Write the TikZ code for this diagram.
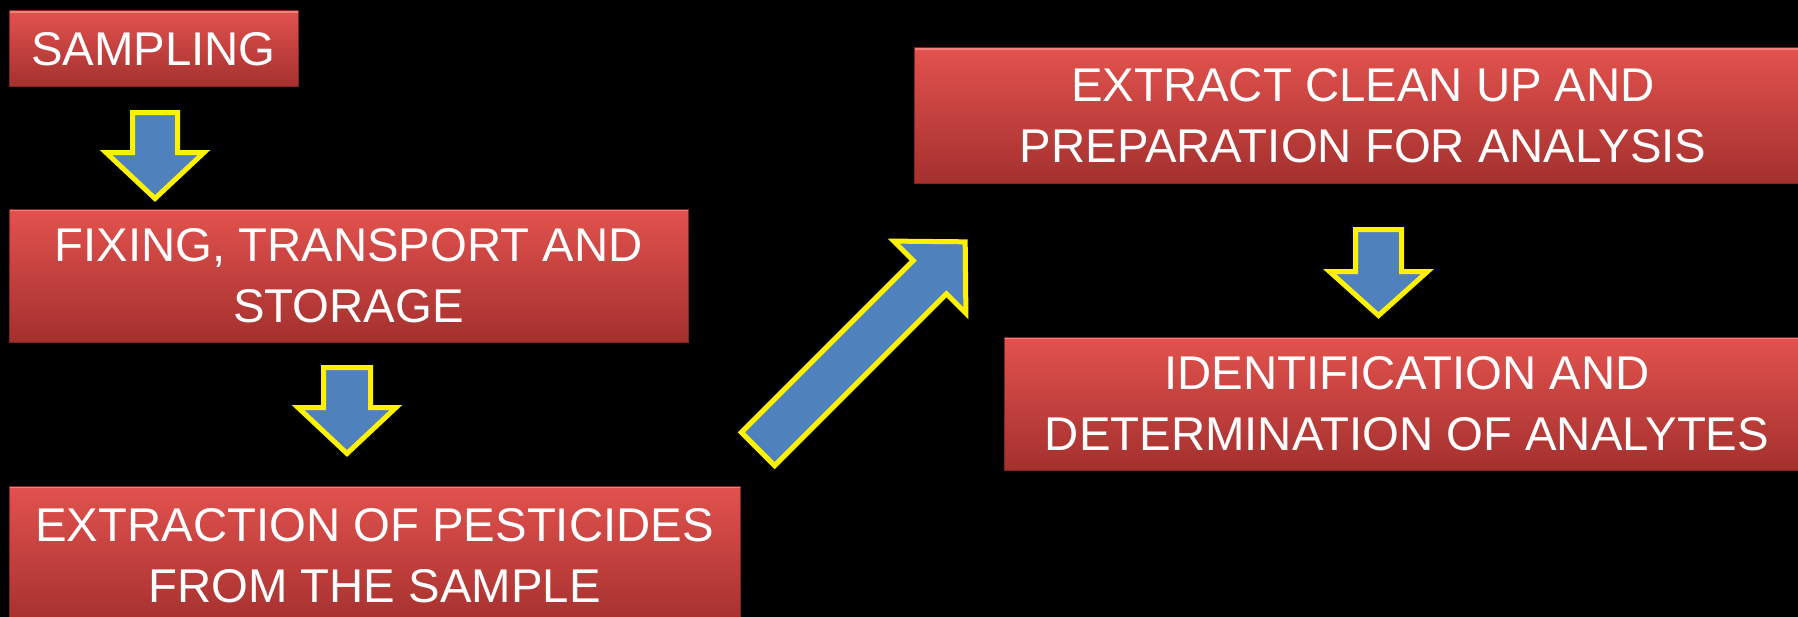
\documentclass[tikz,border=0pt]{standalone}
\usepackage{fontspec}
\setmainfont{Liberation Sans}
\usepackage{tikz}
\definecolor{boxtop}{RGB}{226,82,78}
\definecolor{boxbot}{RGB}{164,48,46}
\definecolor{boxedge}{RGB}{132,34,32}
\definecolor{boxlight}{RGB}{246,128,124}
\definecolor{arrowfill}{RGB}{79,129,189}
\newcommand{\stagefont}{\fontsize{35.5}{45.75}\selectfont}

\begin{document}
\begin{tikzpicture}[x=0.75pt,y=-0.75pt,
  stage/.style={top color=boxtop,bottom color=boxbot,draw=boxedge,line width=0.75pt,
    text=white,font=\stagefont,align=center,inner sep=0pt,
    path picture={\draw[boxlight,line width=3pt]
      (path picture bounding box.north west) -- (path picture bounding box.north east);}},
  arrowbody/.style={fill=arrowfill,draw=yellow,line width=3.75pt,line join=miter},
  pics/blockarr/.style n args={4}{code={
    \draw[arrowbody] (0,{-#2/2}) -- ({#1-#4},{-#2/2}) -- ({#1-#4},{-#3/2}) -- (#1,0)
      -- ({#1-#4},{#3/2}) -- ({#1-#4},{#2/2}) -- (0,{#2/2}) -- cycle;}}]
\useasboundingbox (0,0) rectangle (1798,617);
\fill[black] (0,0) rectangle (1798,617);
\clip (0,0) rectangle (1798,617);

\node (samp) [stage,minimum width=216.75pt,minimum height=57pt] at (153.5,49) {SAMPLING};
\node (fix) [stage,minimum width=509.25pt,minimum height=99.75pt] at (348.5,275.5)
  {FIXING, TRANSPORT AND\\STORAGE};
\node (extr) [stage,minimum width=548.25pt,minimum height=104.25pt] at (374.5,555.5)
  {EXTRACTION OF PESTICIDES\\FROM THE SAMPLE};
\node (clean) [stage,minimum width=673.5pt,minimum height=101.25pt] at (1363,115.5)
  {EXTRACT CLEAN UP AND\\PREPARATION FOR ANALYSIS};
\node (ident) [stage,minimum width=604.5pt,minimum height=99.75pt] at (1407,403.5)
  {IDENTIFICATION AND\\DETERMINATION OF ANALYTES};

\pic[rotate=-90] at (155,112.5) {blockarr={86}{45}{98}{46}};
\pic[rotate=-90] at (347,367.5) {blockarr={86}{47}{98}{46}};
\pic[rotate=45] at (758,449) {blockarr={293}{47}{102}{50}};
\pic[rotate=-90] at (1378.5,229.5) {blockarr={86}{46}{98}{44}};
\end{tikzpicture}
\end{document}
